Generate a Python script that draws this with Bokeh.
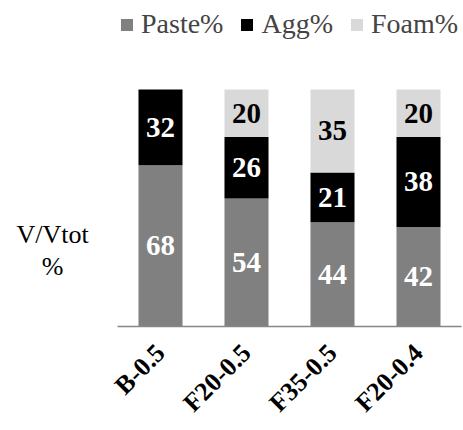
import math
from bokeh.plotting import figure
from bokeh.models import (ColumnDataSource, Range1d, Legend, LegendItem,
                          Label, FixedTicker)
from bokeh.core.properties import value
from bokeh.embed import file_html
from bokeh.resources import INLINE

# Volume fractions of each mix (percent of total volume)
mixes = ["B-0.5", "F20-0.5", "F35-0.5", "F20-0.4"]
paste = [68, 54, 44, 42]
agg = [32, 26, 21, 38]
foam = [0, 20, 35, 20]

series = ["Paste%", "Agg%", "Foam%"]
colors = ["#808080", "#000000", "#D9D9D9"]
text_colors = ["#FFFFFF", "#FFFFFF", "#000000"]

SERIF = "Liberation Serif"

pos = list(range(len(mixes)))
src = ColumnDataSource(data={"x": pos, "Paste%": paste,
                             "Agg%": agg, "Foam%": foam})

# The frame spans the full canvas width and height down to the axis,
# so the legend and the y title sit inside it; the ranges leave room
# for them on the left and at the top.
p = figure(x_range=Range1d(-1.8605, 3.5233),
           y_range=Range1d(0, 137.55),
           width=463, height=430,
           min_border_left=0, min_border_right=0,
           min_border_top=0, min_border_bottom=104,
           output_backend="svg", toolbar_location=None)

renderers = p.vbar_stack(series, x="x", width=0.512, source=src,
                         color=colors, line_color=None)

# value labels centred inside each stacked segment
lx, ly, lt, lc = [], [], [], []
for i in pos:
    base = 0
    for vals, tc in zip((paste, agg, foam), text_colors):
        v = vals[i]
        if v > 0:
            lx.append(i)
            ly.append(base + v / 2)
            lt.append(str(v))
            lc.append(tc)
        base += v
lsrc = ColumnDataSource(data={"x": lx, "y": ly, "t": lt, "c": lc})
p.text(x="x", y="y", text="t", source=lsrc, text_color="c",
       text_align="center", text_baseline="middle",
       text_font=value(SERIF), text_font_size="29px",
       text_font_style="bold")

# legend across the top
legend = Legend(items=[LegendItem(label=s, renderers=[r])
                       for s, r in zip(series, renderers)],
                orientation="horizontal", location=(119, 286),
                glyph_width=15, glyph_height=15, label_standoff=7,
                spacing=16, padding=0, margin=0,
                label_text_font=SERIF, label_text_font_size="28px",
                border_line_color=None, background_fill_alpha=0)
p.add_layout(legend)

# horizontal y-axis title, two lines
for txt, yy in (("V/Vtot", 92), ("%", 60)):
    p.add_layout(Label(x=52, y=yy, x_units="screen", y_units="screen",
                       text=txt, text_align="center",
                       text_baseline="alphabetic",
                       text_font=SERIF, text_font_size="26px",
                       text_color="#000000"))

p.yaxis.visible = False
p.xgrid.visible = False
p.ygrid.visible = False
p.outline_line_color = None
p.background_fill_color = None

ax = p.xaxis[0]
ax.ticker = FixedTicker(ticks=pos)
ax.major_label_overrides = {i: m for i, m in zip(pos, mixes)}
ax.bounds = (-0.5, len(mixes) - 0.5)
ax.axis_line_color = "#868686"
ax.axis_line_width = 1.5
ax.major_tick_line_color = None
ax.minor_tick_line_color = None
ax.major_tick_out = 0
ax.major_tick_in = 0
ax.minor_tick_out = 0
ax.major_label_orientation = math.pi / 4
ax.major_label_text_font = SERIF
ax.major_label_text_font_size = "26px"
ax.major_label_text_font_style = "bold"
ax.major_label_text_color = "#000000"
ax.major_label_standoff = 22

open("out.html", "w").write(file_html(p, INLINE))
